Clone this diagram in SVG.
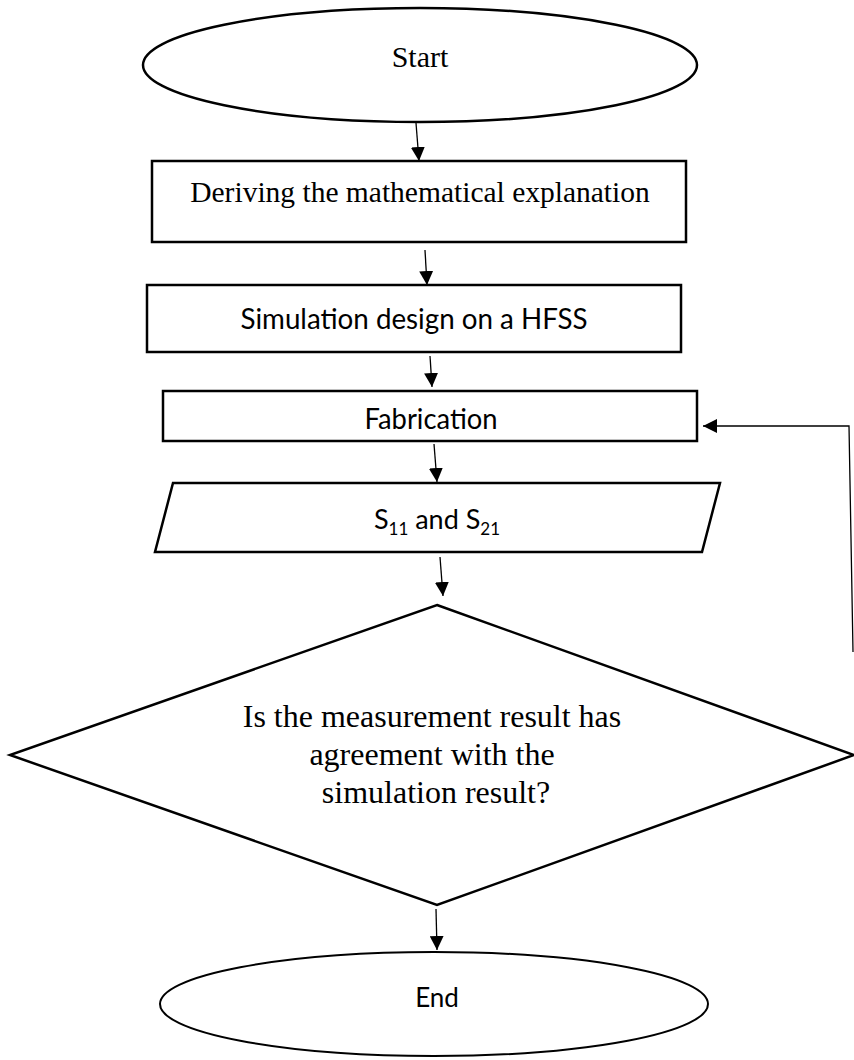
<svg xmlns="http://www.w3.org/2000/svg" width="854" height="1060" viewBox="0 0 854 1060">
<defs>
<style>
.shape{fill:#fff;stroke:#000;stroke-width:2.5}
.thin{fill:#fff;stroke:#000;stroke-width:2}
.conn{fill:none;stroke:#000;stroke-width:1.3}
.serif{font-family:"Liberation Serif","Times New Roman",serif;fill:#000}
.sans{font-family:"Lato","Open Sans","Liberation Sans",sans-serif;fill:#000}
</style>
<marker id="ah" viewBox="0 0 14 14" refX="14" refY="7" markerWidth="14" markerHeight="14" markerUnits="userSpaceOnUse" orient="auto">
<path d="M0,0 L14,7 L0,14 z" fill="#000"/>
</marker>
</defs>
<rect width="854" height="1060" fill="#fff"/>
<g id="start">
<ellipse class="shape" cx="420" cy="65" rx="277" ry="57"/>
<text class="serif" x="420" y="67" font-size="30" text-anchor="middle">Start</text>
</g>
<g id="derive">
<rect class="shape" x="152" y="161" width="534" height="81"/>
<text class="serif" x="420" y="202" font-size="29.5" text-anchor="middle">Deriving the mathematical explanation</text>
</g>
<g id="simulation">
<rect class="shape" x="147" y="285" width="534" height="67"/>
<text class="sans" x="414" y="329" font-size="28" text-anchor="middle" textLength="347" lengthAdjust="spacingAndGlyphs">Simulation design on a HFSS</text>
</g>
<g id="fabrication">
<rect class="shape" x="163" y="391" width="534" height="50"/>
<text class="sans" x="431" y="429" font-size="28" text-anchor="middle" textLength="133" lengthAdjust="spacingAndGlyphs">Fabrication</text>
</g>
<g id="sparams">
<polygon class="shape" points="173,483 720,483 702,552 155,552"/>
<text class="sans" x="437" y="529" font-size="27" text-anchor="middle">S<tspan font-size="17" dy="6">11</tspan><tspan dy="-6"> and S</tspan><tspan font-size="17" dy="6">21</tspan></text>
</g>
<g id="decision">
<polygon class="shape" points="437,605 854,755 437,905 10,755"/>
<text class="serif" font-size="32" text-anchor="middle">
<tspan x="436" y="727">Is the measurement result has</tspan>
<tspan x="436" y="765">agreement with the</tspan>
<tspan x="436" y="803">simulation result?</tspan>
</text>
</g>
<g id="end">
<ellipse class="thin" cx="434" cy="1004" rx="274" ry="52"/>
<text class="sans" x="437" y="1007" font-size="26" text-anchor="middle">End</text>
</g>
<g id="connectors">
<line class="conn" x1="416" y1="123" x2="419" y2="161" marker-end="url(#ah)"/>
<line class="conn" x1="425" y1="250" x2="427" y2="285" marker-end="url(#ah)"/>
<line class="conn" x1="430" y1="356" x2="432" y2="387" marker-end="url(#ah)"/>
<line class="conn" x1="434" y1="444" x2="437" y2="482" marker-end="url(#ah)"/>
<line class="conn" x1="440" y1="557" x2="443" y2="596" marker-end="url(#ah)"/>
<line class="conn" x1="436" y1="909" x2="437" y2="950" marker-end="url(#ah)"/>
<polyline class="conn" points="853,652 849,426 703,426" marker-end="url(#ah)"/>
</g>
</svg>
